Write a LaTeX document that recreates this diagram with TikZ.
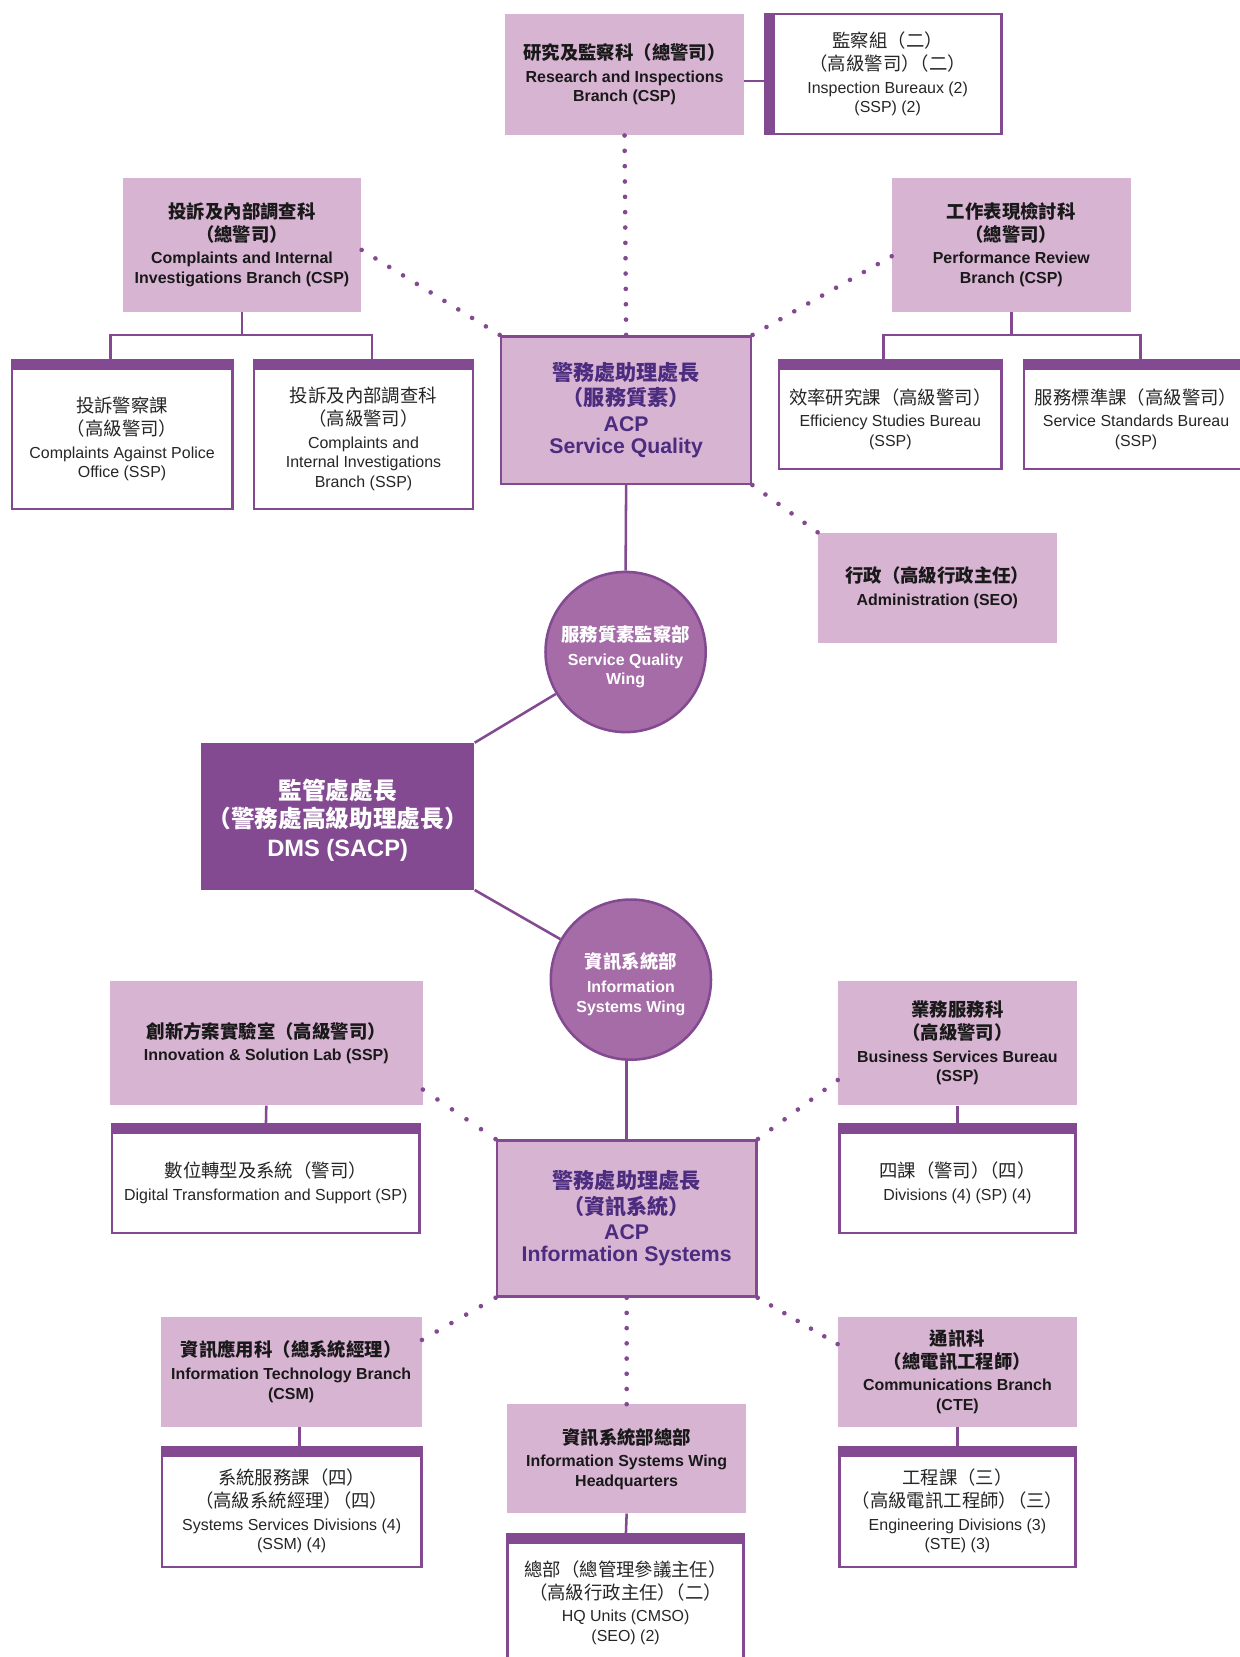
\documentclass[tikz,border=0pt]{standalone}
\usepackage{fontspec}
\setmainfont{Liberation Sans}
\newfontfamily\cjk{Noto Sans CJK TC}
\usetikzlibrary{decorations.markings}

\definecolor{pinkfill}{RGB}{216,180,211}
\definecolor{dmspurple}{RGB}{131,74,146}
\definecolor{wingfill}{RGB}{165,108,167}
\definecolor{acptext}{RGB}{75,44,127}

\newcommand{\zh}[2][17.4]{{\cjk\fontsize{#1}{18.5}\selectfont #2}}

\begin{document}
\begin{tikzpicture}[%
      x=1pt, y=-1pt,
      branch/.style={fill=pinkfill, inner sep=0pt, align=center,
        font=\bfseries\fontsize{15.1}{18.5}\selectfont, text=black!90},
      unitbox/.style={draw=dmspurple, line width=2.4pt, fill=white, inner sep=0pt,
        align=center, font=\fontsize{15.1}{18.5}\selectfont, text=black!85},
      acp/.style={draw=dmspurple, line width=2.4pt, fill=pinkfill, inner sep=0pt,
        align=center, font=\bfseries\fontsize{20.1}{21}\selectfont, text=acptext},
      head/.style={fill=dmspurple, inner sep=0pt, align=center,
        font=\bfseries\fontsize{22.4}{26}\selectfont, text=white},
      wing/.style={circle, draw=dmspurple, line width=2.4pt, fill=wingfill,
        minimum size=151.6pt, inner sep=0pt, align=center,
        font=\bfseries\fontsize{15.1}{18.5}\selectfont, text=white},
      link/.style={draw=dmspurple, line width=2.4pt},
      dotline/.style={decorate, decoration={markings,
        mark=between positions 0 and 1 step #1 with {\fill[dmspurple] (0,0) circle (2.2pt);}}},
      ]
      \useasboundingbox (0,0) rectangle (1173,1568);

      % service quality wing
      \node[branch, minimum width=226pt, minimum height=115pt] (rib) at (591,70.5)
        {\zh{研究及監察科（總警司）}\\[3pt] Research and Inspections\\ Branch (CSP)};
      \node[unitbox, minimum width=215.6pt, minimum height=113.6pt] (insp) at (840,70)
        {\zh{監察組（二）}\\[3pt] \zh{（高級警司）\kern-.5em（二）}\\[3pt] Inspection Bureaux (2)\\ (SSP) (2)};
      \node[branch, minimum width=226pt, minimum height=127pt] (cib) at (229,231.5)
        {\zh{投訴及內部調查科}\\[3pt] \zh{（總警司）}\\[3pt] Complaints and Internal\\ Investigations Branch (CSP)};
      \node[branch, minimum width=226pt, minimum height=127pt] (prb) at (957,231.5)
        {\zh{工作表現檢討科}\\[3pt] \zh{（總警司）}\\[3pt] Performance Review\\ Branch (CSP)};
      \node[unitbox, minimum width=208.6pt, minimum height=132.6pt] (capo) at (115.5,415.5)
        {\zh{投訴警察課}\\[3pt] \zh{（高級警司）}\\[3pt] Complaints Against Police\\ Office (SSP)};
      \node[unitbox, minimum width=207.6pt, minimum height=132.6pt] (ciib) at (344,415.5)
        {\zh{投訴及內部調查科}\\[3pt] \zh{（高級警司）}\\[3pt] Complaints and\\ Internal Investigations\\ Branch (SSP)};
      \node[unitbox, minimum width=210.6pt, minimum height=94.6pt] (esb) at (842.5,396.5)
        {\zh{效率研究課（高級警司）}\\[3pt] Efficiency Studies Bureau\\ (SSP)};
      \node[unitbox, minimum width=211.6pt, minimum height=94.6pt] (ssb) at (1075,396.5)
        {\zh{服務標準課（高級警司）}\\[3pt] Service Standards Bureau\\ (SSP)};
      \node[acp, minimum width=236.6pt, minimum height=139.6pt] (acpsq) at (592.5,388)
        {\zh[20]{警務處助理處長}\\[3pt] \zh[20]{（服務質素）}\\[3pt] ACP\\ Service Quality};
      \node[branch, minimum width=226pt, minimum height=104pt] (adm) at (887,556)
        {\zh{行政（高級行政主任）}\\[3pt] Administration (SEO)};
      \node[wing] (sqw) at (592,617)
        {\rule{0pt}{24pt}\zh{服務質素監察部}\\[4pt] Service Quality\\ Wing};

      \node[head, minimum width=259pt, minimum height=139pt] (dms) at (319.5,772.5)
        {\rule{0pt}{26pt}\zh[22.4]{監管處處長}\\[1pt] \zh[22.4]{（警務處高級助理處長）}\\[1pt] DMS (SACP)};

      % information systems wing
      \node[wing] (isw) at (597,927)
        {\rule{0pt}{24pt}\zh{資訊系統部}\\[4pt] Information\\ Systems Wing};
      \node[branch, minimum width=296pt, minimum height=118pt] (inno) at (252,987)
        {\zh{創新方案實驗室（高級警司）}\\[3pt] Innovation \& Solution Lab (SSP)};
      \node[unitbox, minimum width=290.6pt, minimum height=94.6pt] (dts) at (251.5,1119.5)
        {\zh{數位轉型及系統（警司）}\\[3pt] Digital Transformation and Support (SP)};
      \node[branch, minimum width=226pt, minimum height=118pt] (bsb) at (906,987)
        {\zh{業務服務科}\\[3pt] \zh{（高級警司）}\\[3pt] Business Services Bureau\\ (SSP)};
      \node[unitbox, minimum width=223.6pt, minimum height=94.6pt] (divs) at (906,1119.5)
        {\zh{四課（警司）\kern-.5em（四）}\\[3pt] Divisions (4) (SP) (4)};
      \node[acp, minimum width=245.6pt, minimum height=147.6pt] (acpis) at (593,1153)
        {\zh[20]{警務處助理處長}\\[3pt] \zh[20]{（資訊系統）}\\[3pt] ACP\\ Information Systems};
      \node[branch, minimum width=247pt, minimum height=104pt] (itb) at (275.5,1298)
        {\zh{資訊應用科（總系統經理）}\\[3pt] Information Technology Branch\\ (CSM)};
      \node[unitbox, minimum width=245.6pt, minimum height=105.6pt] (ssd) at (276,1430)
        {\zh{系統服務課（四）}\\[3pt] \zh{（高級系統經理）\kern-.5em（四）}\\[3pt] Systems Services Divisions (4)\\ (SSM) (4)};
      \node[branch, minimum width=226pt, minimum height=103pt] (hqb) at (593,1380.5)
        {\zh{資訊系統部總部}\\[3pt] Information Systems Wing\\ Headquarters};
      \node[unitbox, minimum width=223.6pt, minimum height=112.6pt] (hqu) at (592,1516.5)
        {\zh{總部（總管理參議主任）}\\[3pt] \zh{（高級行政主任）\kern-.5em（二）}\\[3pt] HQ Units (CMSO)\\ (SEO) (2)};
      \node[branch, minimum width=226pt, minimum height=104pt] (comb) at (906,1298)
        {\zh{通訊科}\\[3pt] \zh{（總電訊工程師）}\\[3pt] Communications Branch\\ (CTE)};
      \node[unitbox, minimum width=223.6pt, minimum height=105.6pt] (eng) at (906,1430)
        {\zh{工程課（三）}\\[3pt] \zh{（高級電訊工程師）\kern-.5em（三）}\\[3pt] Engineering Divisions (3)\\ (STE) (3)};

      \coordinate (ribout) at ([yshift=-6pt]rib.east);
      \coordinate (itdrop) at ([xshift=8pt]itb.south);
      \draw[link] (ribout) -- (ribout -| insp.west);
      \draw[link] (cib.south) -- ++(0,22) -| ([xshift=-11pt]capo.north);
      \draw[link] (cib.south) -- ++(0,22) -| ([xshift=8pt]ciib.north);
      \draw[link] (prb.south) -- ++(0,22) -| ([xshift=-6.5pt]esb.north);
      \draw[link] (prb.south) -- ++(0,22) -| ([xshift=4pt]ssb.north);
      \draw[link] (acpsq.south) -- (sqw.north);
      \draw[link] (dms.north east) -- (sqw);
      \draw[link] (dms.south east) -- (isw);
      \draw[link] (acpis.north) -- (acpis.north |- isw.south);
      \draw[link] (inno.south) -- (dts.north);
      \draw[link] (bsb.south) -- (divs.north);
      \draw[link] (itdrop) -- (itdrop |- ssd.north);
      \draw[link] (hqb.south) -- (hqu.north);
      \draw[link] (comb.south) -- (eng.north);

      \fill[dmspurple] (insp.north west) rectangle ([xshift=-8pt]insp.south west);
      \fill[dmspurple] (capo.north west) rectangle ([yshift=8pt]capo.north east);
      \fill[dmspurple] (ciib.north west) rectangle ([yshift=8pt]ciib.north east);
      \fill[dmspurple] (esb.north west) rectangle ([yshift=8pt]esb.north east);
      \fill[dmspurple] (ssb.north west) rectangle ([yshift=8pt]ssb.north east);
      \fill[dmspurple] (dts.north west) rectangle ([yshift=8pt]dts.north east);
      \fill[dmspurple] (divs.north west) rectangle ([yshift=8pt]divs.north east);
      \fill[dmspurple] (ssd.north west) rectangle ([yshift=8pt]ssd.north east);
      \fill[dmspurple] (hqu.north west) rectangle ([yshift=8pt]hqu.north east);
      \fill[dmspurple] (eng.north west) rectangle ([yshift=8pt]eng.north east);

      \path[dotline=0.0769] (rib.south) -- (acpsq.north);
      \path[dotline=0.0999] ([yshift=-5pt]cib.east) -- (acpsq.north west);
      \path[dotline=0.0999] ([yshift=-11pt]prb.west) -- (acpsq.north east);
      \path[dotline=0.1999] (acpsq.south east) -- (adm.north west);
      \path[dotline=0.1999] ([yshift=-44pt]inno.east) -- (acpis.north west);
      \path[dotline=0.1666] ([yshift=-35pt]bsb.west) -- (acpis.north east);
      \path[dotline=0.1999] (acpis.south west) -- ([yshift=30pt]itb.east);
      \path[dotline=0.1428] (acpis.south) -- (hqb.north);
      \path[dotline=0.1666] (acpis.south east) -- ([yshift=26pt]comb.west);
\end{tikzpicture}
\end{document}
